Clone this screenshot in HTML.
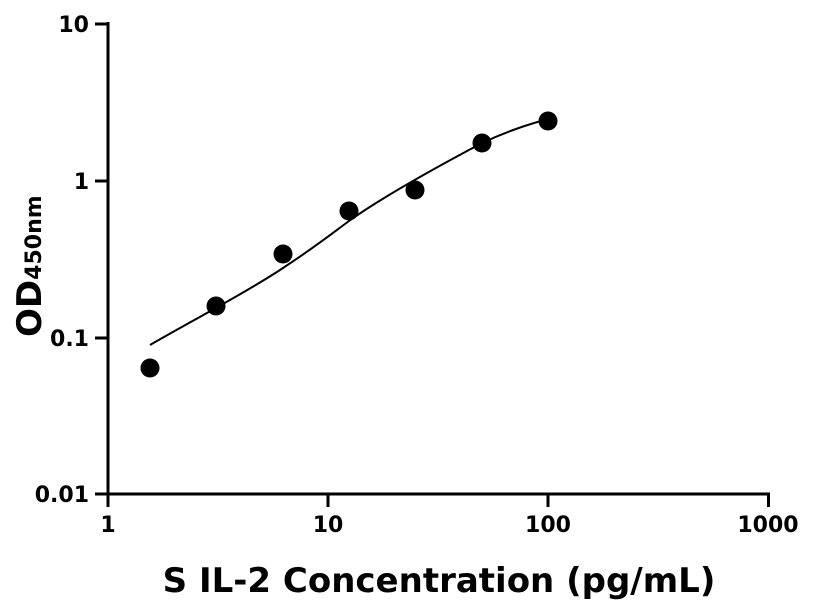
<!DOCTYPE html>
<html><head><meta charset="utf-8"><style>
html,body{margin:0;padding:0;background:#fff;}
svg{display:block;}
text{font-family:"DejaVu Sans","Liberation Sans",sans-serif;font-weight:bold;fill:#000;}
</style></head><body>
<svg width="816" height="612" viewBox="0 0 816 612">
<g stroke="#000" stroke-width="3" fill="none">
<line x1="108" y1="22" x2="108" y2="496"/>
<line x1="106.5" y1="494" x2="770" y2="494"/>
<line x1="95" y1="24" x2="108" y2="24"/>
<line x1="95" y1="181" x2="108" y2="181"/>
<line x1="95" y1="338" x2="108" y2="338"/>
<line x1="95" y1="494" x2="108" y2="494"/>
<line x1="108" y1="494" x2="108" y2="507"/>
<line x1="328" y1="494" x2="328" y2="507"/>
<line x1="548" y1="494" x2="548" y2="507"/>
<line x1="768.5" y1="494" x2="768.5" y2="507"/>
</g>
<g font-size="22" text-anchor="end">
<text x="89" y="32">10</text>
<text x="89" y="189">1</text>
<text x="89" y="346">0.1</text>
<text x="89" y="502">0.01</text>
</g>
<g font-size="22" text-anchor="middle">
<text x="108" y="532">1</text>
<text x="328" y="532">10</text>
<text x="548" y="532">100</text>
<text x="768" y="532">1000</text>
</g>
<text x="439" y="592" font-size="34" text-anchor="middle">S IL-2 Concentration (pg/mL)</text>
<text transform="translate(41,337) rotate(-90)" font-size="34">OD<tspan font-size="22">450nm</tspan></text>
<path d="M150,345 C190,322 250,290 283,268 C315,247 330,235 349,221 C385,195 450,160 482,143 C510,130 530,124 548,119" stroke="#000" stroke-width="2" fill="none"/>
<g fill="#000">
<circle cx="150" cy="368" r="9.5"/>
<circle cx="216" cy="306" r="9.5"/>
<circle cx="283" cy="254" r="9.5"/>
<circle cx="349" cy="211" r="9.5"/>
<circle cx="415" cy="190" r="9.5"/>
<circle cx="482" cy="143" r="9.5"/>
<circle cx="548" cy="121" r="9.5"/>
</g>
</svg>
</body></html>
